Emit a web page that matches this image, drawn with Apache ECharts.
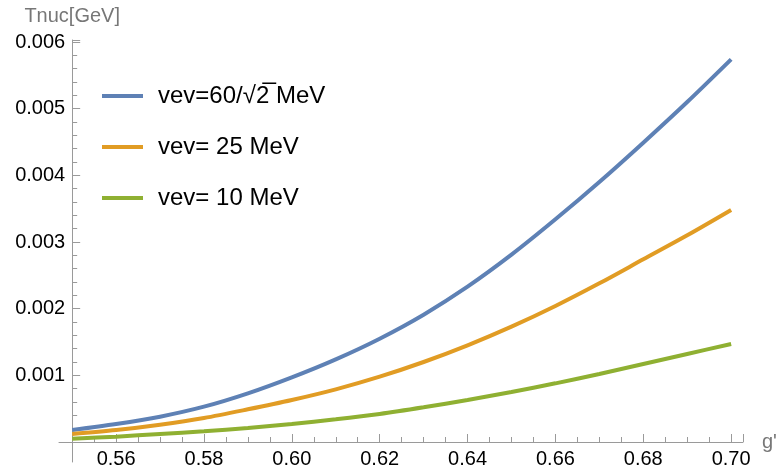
<!DOCTYPE html>
<html>
<head>
<meta charset="utf-8">
<script src="https://cdn.jsdelivr.net/npm/echarts@6/dist/echarts.min.js"></script>
<style>
html,body{margin:0;padding:0;background:#fff;}
#chart{width:779px;height:476px;}
</style>
</head>
<body>
<div id="chart"></div>
<script>
// g' values
var gValues = [0.55,0.56,0.57,0.58,0.59,0.60,0.61,0.62,0.63,0.64,0.65,0.66,0.67,0.68,0.69,0.70];
// Tnuc [GeV] for each vev
var tnucVev60 = [0.00018,0.00027,0.00038,0.00053,0.00073,0.00097,0.00124,0.00155,0.00191,0.00233,0.00281,0.00334,0.00390,0.00449,0.00510,0.00574];
var tnucVev25 = [0.00012,0.00018,0.00026,0.00036,0.00049,0.00063,0.00079,0.00098,0.00120,0.00145,0.00173,0.00204,0.00238,0.00274,0.00310,0.00348];
var tnucVev10 = [0.00005,0.00008,0.00012,0.00016,0.00021,0.00027,0.00034,0.00042,0.00052,0.00063,0.00075,0.00088,0.00102,0.00117,0.00132,0.00147];
var seriesNames = ['vev=60/\u221A2\u0305 MeV','vev= 25 MeV','vev= 10 MeV'];
// tick labels
var xTickLabels = [0.56,0.58,0.60,0.62,0.64,0.66,0.68,0.70];
var yTickLabels = [0.001,0.002,0.003,0.004,0.005,0.006];

var colors = ['#5E81B5','#E19C24','#8FB032'];
var axisColor = '#9a9a9a';
var font = '"Liberation Sans", Arial, "DejaVu Sans", sans-serif';

function pairs(xs, ys){ return xs.map(function(x,i){ return [x, ys[i]]; }); }

// main plot range (includes the small axis overhang like the original)
var xMin = 0.547, xMax = 0.7027, yMin = -0.0003, yMax = 0.00603;
var gridLeft = 59, gridRight = 36, gridTop = 40, gridBottom = 14;
var W = 779, H = 476;
var pxPerX = (W - gridRight - gridLeft) / (xMax - xMin);
var pxPerY = (H - gridBottom - gridTop) / (yMax - yMin);
function xPix(v){ return gridLeft + (v - xMin) * pxPerX; }
var zeroBottom = gridBottom + (0 - yMin) * pxPerY; // bottom offset of y=0

function hiddenAxis(extra){
  var a = {type:'value', show:true, axisLine:{show:false}, axisTick:{show:false}, axisLabel:{show:false}, splitLine:{show:false}};
  for (var k in extra) a[k] = extra[k];
  return a;
}
function tickAxis(min, max, interval, len, pos){
  return {type:'value', min:min, max:max, interval:interval, position:pos,
    axisLine:{show:false, onZero:false},
    axisTick:{show:true, inside:true, length:len, lineStyle:{color:axisColor, width:1}},
    axisLabel:{show:false}, splitLine:{show:false}};
}

var chart = echarts.init(document.getElementById('chart'), null, {renderer:'canvas'});
var xLabelAxis = tickAxis(0.55, xMax, 0.005, 5, 'bottom');
xLabelAxis.axisLabel = {show:true, customValues:xTickLabels, margin:7, fontFamily:font, fontSize:20, color:'#000',
  formatter:function(v){return v.toFixed(2);}};
var option = {
  animation:false,
  color: colors,
  grid:[
    {left:gridLeft, right:gridRight, top:gridTop, bottom:gridBottom, containLabel:false, outerBoundsMode:'none'},
    {left:xPix(0.55), right:gridRight, top:gridTop, bottom:zeroBottom, containLabel:false, outerBoundsMode:'none'},
    {left:xPix(0.56), right:gridRight, top:gridTop, bottom:zeroBottom, containLabel:false, outerBoundsMode:'none'}
  ],
  legend:{
    orient:'vertical', left:102, top:84, padding:0, itemGap:27,
    itemWidth:41, itemHeight:4, icon:'rect',
    textStyle:{fontFamily:font, fontSize:24, color:'#000', lineHeight:24, padding:[0,0,0,10]},
    data: seriesNames
  },
  xAxis:[
    {gridIndex:0, type:'value', min:xMin, max:xMax, position:'bottom',
     name:"g'", nameLocation:'end', nameGap:19,
     nameTextStyle:{fontFamily:font, fontSize:20, color:'#777', verticalAlign:'middle'},
     axisLine:{show:true, onZero:true, lineStyle:{color:axisColor, width:1}},
     axisTick:{show:false},
     axisLabel:{show:false},
     splitLine:{show:false}},
    Object.assign({gridIndex:1}, xLabelAxis),
    Object.assign({gridIndex:2}, tickAxis(0.56, xMax, 0.02, 8, 'bottom'))
  ],
  yAxis:[
    {gridIndex:0, type:'value', min:yMin, max:yMax, position:'left', offset:-(xPix(0.55)-gridLeft),
     name:'Tnuc[GeV]', nameLocation:'end', nameGap:14,
     nameTextStyle:{fontFamily:font, fontSize:20, color:'#777', align:'center'},
     axisLine:{show:true, onZero:false, lineStyle:{color:axisColor, width:1}},
     axisTick:{show:false},
     axisLabel:{show:true, customValues:yTickLabels, margin:7, fontFamily:font, fontSize:20, color:'#000',
       formatter:function(v){return v.toFixed(3);}},
     splitLine:{show:false}},
    Object.assign({gridIndex:1}, tickAxis(0, yMax, 0.0002, 5, 'left')),
    Object.assign({gridIndex:1}, tickAxis(0, yMax, 0.001, 8, 'left')),
    Object.assign({gridIndex:2}, hiddenAxis({min:0, max:yMax}))
  ],
  series:[
    {name:seriesNames[0], type:'line', xAxisIndex:0, yAxisIndex:0, data:pairs(gValues,tnucVev60),
     showSymbol:false, smooth:0.3, lineStyle:{width:4, color:colors[0]}, itemStyle:{color:colors[0]}},
    {name:seriesNames[1], type:'line', xAxisIndex:0, yAxisIndex:0, data:pairs(gValues,tnucVev25),
     showSymbol:false, smooth:0.3, lineStyle:{width:4, color:colors[1]}, itemStyle:{color:colors[1]}},
    {name:seriesNames[2], type:'line', xAxisIndex:0, yAxisIndex:0, data:pairs(gValues,tnucVev10),
     showSymbol:false, smooth:0.3, lineStyle:{width:4, color:colors[2]}, itemStyle:{color:colors[2]}}
  ]
};
chart.setOption(option);
</script>
</body>
</html>
